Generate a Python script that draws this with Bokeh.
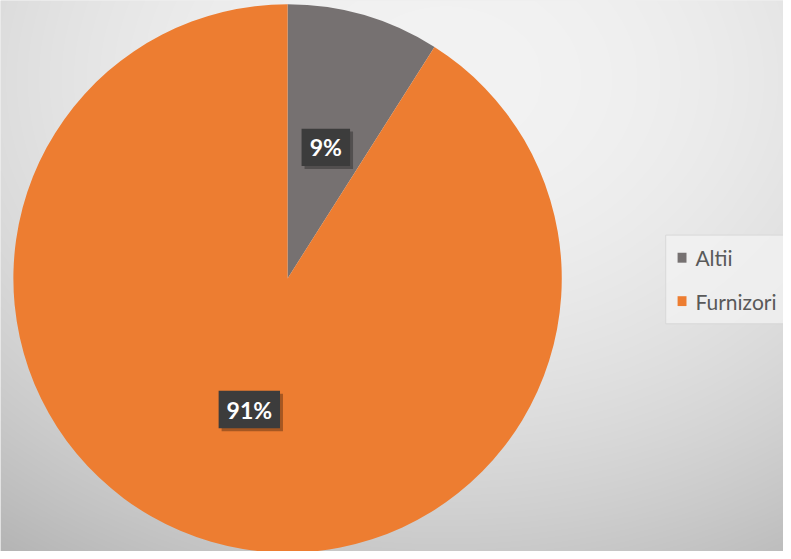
import numpy as np
from bokeh.plotting import figure
from bokeh.models import Range1d, ColumnDataSource
from bokeh.core.properties import value
from bokeh.embed import file_html
from bokeh.resources import INLINE

# ---- data ----
categories = ["Altii", "Furnizori"]
values = [9, 91]
colors = ["#767171", "#ED7D31"]

W, H = 791, 559
p = figure(width=783, height=551, output_backend="svg", toolbar_location=None,
           x_range=Range1d(0, W), y_range=Range1d(0, H), min_border=0)
p.axis.visible = False
p.grid.visible = False
p.outline_line_color = None
p.background_fill_color = "#e0e0e0"
p.border_fill_color = "#e0e0e0"

# background radial gradient (style only)
X, Y = np.meshgrid(np.arange(W) + 0.5, np.arange(H) + 0.5)
d = np.sqrt((X - 450) ** 2 + ((Y - 80) * 1.3) ** 2)
c = np.clip(243 - 52 * (d / 700) ** 2, 180, 245).astype(np.uint32)
c = c[::-1, :]
img = (255 << 24) | (c << 16) | (c << 8) | c
p.image_rgba(image=[img.view(np.uint32)], x=0, y=0, dw=W, dh=H)

# pie
cx, cy, r = 290, 277, 277
total = sum(values)
fr = np.array(values) / total
cum = np.concatenate([[0], np.cumsum(fr)])
start = np.pi / 2 - cum[:-1] * 2 * np.pi
end = np.pi / 2 - cum[1:] * 2 * np.pi
src = ColumnDataSource(dict(start=start, end=end, color=colors, cat=categories))
p.wedge(x=cx, y=cy, radius=r, start_angle="start", end_angle="end",
        direction="clock", fill_color="color", line_color=None, source=src)

# data labels
mid = (start + end) / 2
lx = cx + 0.5 * r * np.cos(mid)
ly = cy + 0.5 * r * np.sin(mid)
labels = [f"{v}%" for v in values]
bw = [23 + 13 * len(t) for t in labels]
p.rect(x=lx + 3, y=ly - 3, width=bw, height=38, fill_color="black",
       fill_alpha=0.3, line_color=None)
p.rect(x=lx, y=ly, width=bw, height=38, fill_color="#3c3c3c", line_color=None)
p.text(x=lx, y=ly, text=labels, text_color="white", text_font=value("Lato"),
       text_font_style="bold", text_font_size="23px", text_align="center",
       text_baseline="middle")

# legend (drawn manually)
p.rect(x=[735], y=[H - 283], width=126, height=90, fill_color="#f3f3f3",
       fill_alpha=0.7, line_color="#d8d8d8")
leg_y = np.array([H - 261, H - 305])
p.rect(x=[688.5] * 2, y=leg_y, width=9, height=10, fill_color=colors,
       line_color=None)
p.text(x=[702] * 2, y=leg_y, text=categories, text_color="#595959",
       text_font=value("Lato"), text_font_size="21px", text_align="left",
       text_baseline="middle")

open("out.html", "w").write(file_html(p, INLINE))
